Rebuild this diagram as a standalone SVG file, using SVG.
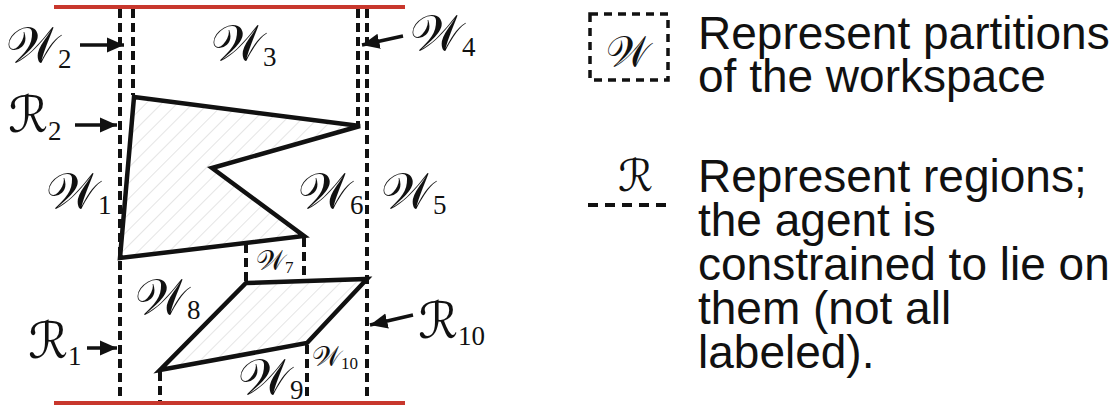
<svg xmlns="http://www.w3.org/2000/svg" width="1120" height="409" viewBox="0 0 1120 409">
<style>
.red{stroke:#c8372d;stroke-width:4;fill:none}
.dash{stroke:#111;stroke-width:4;stroke-dasharray:9 5;fill:none}
.reg{stroke:#111;stroke-width:4.5;stroke-linejoin:miter;fill:url(#hatch)}
.arr{stroke:#111;stroke-width:3.5;fill:none;marker-end:url(#ah)}
.cal{font-family:"DejaVu Serif","DejaVu Sans",serif;font-size:50px;fill:#111}
.calr{font-family:"DejaVu Serif","DejaVu Sans",serif;font-size:50px;fill:#111}
.sub{font-family:"Liberation Serif",serif;font-size:27px;fill:#111}
.txt{font-family:"Liberation Sans",Arial,sans-serif;font-size:46px;fill:#111}
</style>
<defs>
<pattern id="hatch" width="11" height="11" patternUnits="userSpaceOnUse" patternTransform="rotate(45)">
<line x1="0" y1="0" x2="0" y2="11" stroke="#cccccc" stroke-width="1"/>
</pattern>
<marker id="ah" markerWidth="6" markerHeight="6" refX="5" refY="3" orient="auto" markerUnits="strokeWidth">
<path d="M0,0.8 L5,3 L0,5.2 Z" fill="#111"/>
</marker>
</defs>
<rect width="1120" height="409" fill="#fff"/>
<g id="boundaries">
<line class="red" x1="54" y1="7" x2="405" y2="7"/>
<line class="red" x1="54" y1="403" x2="405" y2="403"/>
</g>
<g id="regions">
<polygon id="R2" class="reg" points="134,97 360,126 212,168 304,236 120,258"/>
<polygon id="R10" class="reg" points="246,283 367,279 307,343 160,370"/>
</g>
<g id="connectors">
<line class="dash" x1="120" y1="9" x2="120" y2="401"/>
<line class="dash" x1="133" y1="9" x2="133" y2="95"/>
<line class="dash" x1="358" y1="9" x2="358" y2="124"/>
<line class="dash" x1="367" y1="9" x2="367" y2="401"/>
<line class="dash" x1="246" y1="244" x2="246" y2="281"/>
<line class="dash" x1="304" y1="238" x2="304" y2="280"/>
<line class="dash" x1="307" y1="345" x2="307" y2="401"/>
<line class="dash" x1="160" y1="372" x2="160" y2="401"/>
<line class="arr" x1="80" y1="45" x2="124" y2="45"/>
<line class="arr" x1="403" y1="36" x2="362" y2="45"/>
<line class="arr" x1="75" y1="125" x2="117" y2="125"/>
<line class="arr" x1="87" y1="348" x2="117" y2="348"/>
<line class="arr" x1="413" y1="315" x2="370" y2="325"/>
</g>
<g id="labels">
<text class="cal" x="6" y="62">𝒲<tspan class="sub" dy="6">2</tspan></text>
<text class="cal" x="211" y="60">𝒲<tspan class="sub" dy="6">3</tspan></text>
<text class="cal" x="410" y="50">𝒲<tspan class="sub" dy="6">4</tspan></text>
<text class="calr" x="8" y="132">ℛ<tspan class="sub" dy="8">2</tspan></text>
<text class="cal" x="46" y="208">𝒲<tspan class="sub" dy="6">1</tspan></text>
<text class="cal" x="298" y="208">𝒲<tspan class="sub" dy="6">6</tspan></text>
<text class="cal" x="381" y="208">𝒲<tspan class="sub" dy="6">5</tspan></text>
<text class="cal" x="256" y="270" style="font-size:28px">𝒲<tspan class="sub" dy="3" style="font-size:17px">7</tspan></text>
<text class="cal" x="135" y="314">𝒲<tspan class="sub" dy="5">8</tspan></text>
<text class="calr" x="28" y="358">ℛ<tspan class="sub" dy="7">1</tspan></text>
<text class="cal" x="238" y="394">𝒲<tspan class="sub" dy="5">9</tspan></text>
<text class="cal" x="312" y="366" style="font-size:28px">𝒲<tspan class="sub" dy="3" style="font-size:17px">10</tspan></text>
<text class="calr" x="418" y="338">ℛ<tspan class="sub" dy="7">10</tspan></text>
</g>
<g id="legend">
<rect x="590" y="14" width="78" height="66" class="dash" style="stroke-width:3.5;stroke-dasharray:8 6"/>
<text class="cal" x="606" y="66" style="font-size:42px">𝒲</text>
<text class="calr" x="618" y="191" style="font-size:44px">ℛ</text>
<line class="dash" x1="588" y1="205" x2="672" y2="205" style="stroke-width:4;stroke-dasharray:10 7"/>
<text class="txt" x="698" y="49">Represent partitions<tspan x="698" dy="43">of the workspace</tspan></text>
<text class="txt" x="698" y="192">Represent regions;<tspan x="698" dy="44">the agent is</tspan><tspan x="698" dy="44">constrained to lie on</tspan><tspan x="698" dy="44">them (not all</tspan><tspan x="698" dy="44">labeled).</tspan></text>
</g>
</svg>
